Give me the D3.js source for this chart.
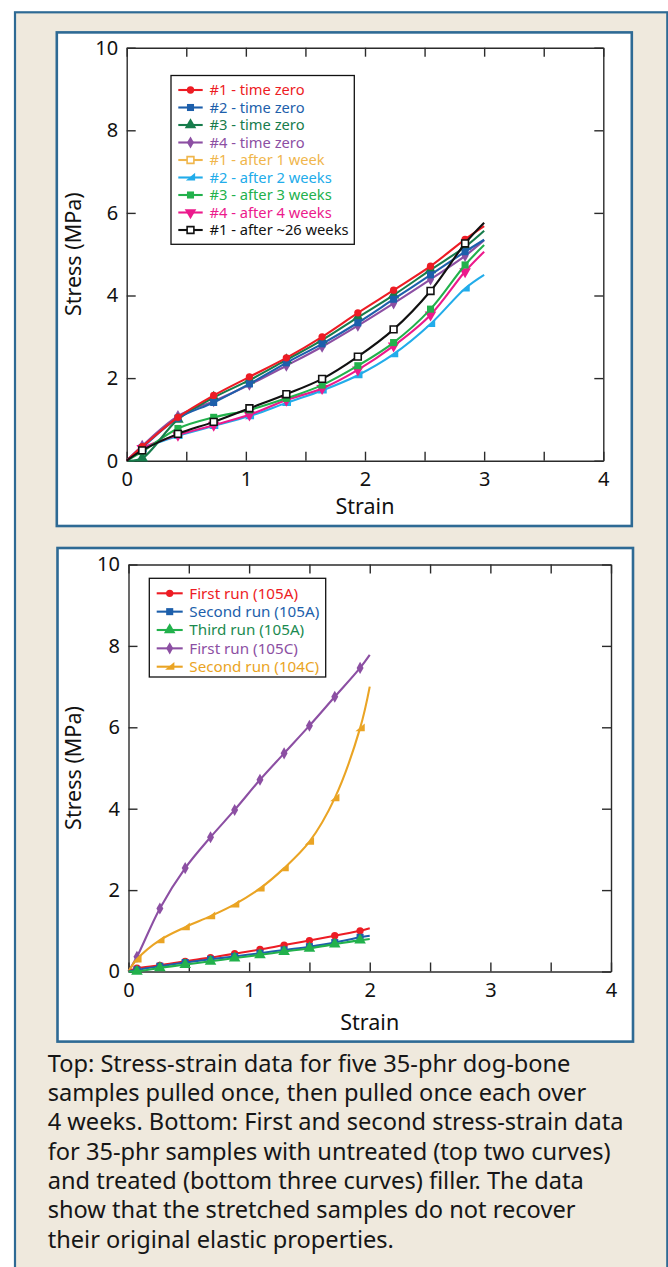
<!DOCTYPE html>
<html>
<head>
<meta charset="utf-8">
<script src="https://cdn.jsdelivr.net/npm/d3@7"></script>
<style>
  html, body { margin: 0; padding: 0; background: #ffffff; }
  svg { display: block; }
  text { font-family: "Noto Sans", "Open Sans", sans-serif; }
</style>
</head>
<body>
<div id="chart"></div>
<script>
// ---- Top panel: five 35-phr dog-bone samples, pulled at time zero and again later ----
const topStrain = [0, 0.13, 0.43, 0.73, 1.03, 1.34, 1.64, 1.94, 2.24, 2.55, 2.84, 3.0];
const s1TimeZero   = [0, 0.34, 1.05, 1.58, 2.03, 2.49, 3.00, 3.58, 4.13, 4.71, 5.36, 5.68];
const s2TimeZero   = [0, 0.32, 1.03, 1.41, 1.86, 2.37, 2.83, 3.34, 3.91, 4.50, 5.06, 5.35];
const s3TimeZero   = [0, 0.06, 1.00, 1.53, 1.95, 2.44, 2.92, 3.47, 4.01, 4.62, 5.18, 5.57];
const s4TimeZero   = [0, 0.36, 1.08, 1.44, 1.84, 2.30, 2.76, 3.27, 3.81, 4.39, 4.96, 5.34];
const s1Week1      = [];
const s2Weeks2     = [0, 0.28, 0.60, 0.84, 1.08, 1.40, 1.70, 2.07, 2.58, 3.31, 4.17, 4.50];
const s3Weeks3     = [0, 0.22, 0.78, 1.05, 1.23, 1.51, 1.83, 2.30, 2.86, 3.67, 4.74, 5.22];
const s4Weeks4     = [0, 0.30, 0.62, 0.86, 1.11, 1.47, 1.75, 2.20, 2.78, 3.53, 4.58, 5.06];
const s1Weeks26    = [0, 0.25, 0.65, 0.94, 1.27, 1.61, 1.98, 2.52, 3.18, 4.11, 5.26, 5.76];

// ---- Bottom panel: repeated runs, treated (105A) and untreated (105C/104C) filler ----
const bottomStrain = [0, 0.07, 0.26, 0.47, 0.68, 0.88, 1.09, 1.29, 1.50, 1.71, 1.92, 2.0];
const run1_105A = [0, 0.08, 0.15, 0.25, 0.34, 0.44, 0.54, 0.65, 0.76, 0.88, 1.00, 1.06];
const run2_105A = [0, 0.04, 0.13, 0.22, 0.30, 0.37, 0.45, 0.53, 0.61, 0.71, 0.84, 0.88];
const run3_105A = [0, 0.00, 0.09, 0.17, 0.25, 0.33, 0.41, 0.49, 0.57, 0.67, 0.77, 0.80];
const run1_105C = [0, 0.36, 1.55, 2.54, 3.30, 3.97, 4.71, 5.36, 6.04, 6.75, 7.46, 7.78];
const run2_104C = [0, 0.30, 0.77, 1.09, 1.36, 1.65, 2.04, 2.54, 3.19, 4.26, 5.98, 7.00];

// ---- Axis ticks ----
const xMajorTicks = [0, 1, 2, 3, 4];
const xMinorTicks = [0, 0.5, 1, 1.5, 2, 2.5, 3, 3.5, 4];
const yTicks = [0, 2, 4, 6, 8, 10];

const captionLines = [
  "Top: Stress-strain data for five 35-phr dog-bone",
  "samples pulled once, then pulled once each over",
  "4 weeks. Bottom: First and second stress-strain data",
  "for 35-phr samples with untreated (top two curves)",
  "and treated (bottom three curves) filler. The data",
  "show that the stretched samples do not recover",
  "their original elastic properties."
];

// Series tables (drawn in list order; legend order given separately)
const topSeries = [
  { label: "#1 - time zero",        color: "#ed1c24", text: "#ed1c24", shape: "circle",   values: s1TimeZero },
  { label: "#2 - time zero",        color: "#1d5fab", text: "#1d5fab", shape: "square",   values: s2TimeZero },
  { label: "#3 - time zero",        color: "#177c4c", text: "#177c4c", shape: "triangle", values: s3TimeZero },
  { label: "#4 - time zero",        color: "#8c4fa3", text: "#8c4fa3", shape: "diamond",  values: s4TimeZero },
  { label: "#1 - after 1 week",     color: "#f0b64c", text: "#f0b64c", shape: "openSquare", values: s1Week1 },
  { label: "#2 - after 2 weeks",    color: "#22acea", text: "#22acea", shape: "halfTri",  values: s2Weeks2 },
  { label: "#3 - after 3 weeks",    color: "#22b14c", text: "#22b14c", shape: "square",   values: s3Weeks3 },
  { label: "#4 - after 4 weeks",    color: "#ec1a8c", text: "#ec1a8c", shape: "downTri",  values: s4Weeks4 },
  { label: "#1 - after ~26 weeks",  color: "#111111", text: "#111111", shape: "openSquare", values: s1Weeks26 }
];
const topDrawOrder = [4, 5, 7, 6, 3, 2, 1, 0, 8];

const bottomSeries = [
  { label: "First run (105A)",  color: "#ed1c24", text: "#ed1c24", shape: "circle",   values: run1_105A },
  { label: "Second run (105A)", color: "#1d5fab", text: "#1d5fab", shape: "square",   values: run2_105A },
  { label: "Third run (105A)",  color: "#22b14c", text: "#1b8a4f", shape: "triangle", values: run3_105A },
  { label: "First run (105C)",  color: "#8c4fa3", text: "#8c4fa3", shape: "diamond",  values: run1_105C },
  { label: "Second run (104C)", color: "#eaa424", text: "#eaa424", shape: "halfTri",  values: run2_104C }
];
const bottomDrawOrder = [3, 4, 0, 1, 2];

const W = 668, H = 1267;
const svg = d3.select("#chart").append("svg").attr("width", W).attr("height", H);

const BEIGE = "#efe9dd", FRAME = "#2e6a94", AXIS = "#2b2b2b";

// Outer framed box and the two white panels
svg.append("rect").attr("x", 15).attr("y", 12.3).attr("width", 652.3).attr("height", 1280)
  .attr("fill", BEIGE).attr("stroke", FRAME).attr("stroke-width", 2.2);
svg.append("rect").attr("x", 56.8).attr("y", 32.4).attr("width", 575).attr("height", 493.6)
  .attr("fill", "#fff").attr("stroke", FRAME).attr("stroke-width", 2.6);
svg.append("rect").attr("x", 57.5).attr("y", 548).attr("width", 575.5).attr("height", 493.6)
  .attr("fill", "#fff").attr("stroke", FRAME).attr("stroke-width", 2.6);

// Marker shapes
const halfTriangle = {
  draw(ctx, size) {
    const s = Math.sqrt(size);
    ctx.moveTo(-s * 0.6, s * 0.4);
    ctx.lineTo(s * 0.6, -s * 0.6);
    ctx.lineTo(s * 0.6, s * 0.4);
    ctx.closePath();
  }
};
function markerPath(shape) {
  switch (shape) {
    case "circle":     return d3.symbol(d3.symbolCircle, 42)();
    case "square":     return d3.symbol(d3.symbolSquare, 50)();
    case "openSquare": return d3.symbol(d3.symbolSquare, 46)();
    case "triangle":   return d3.symbol(d3.symbolTriangle, 58)();
    case "downTri":    return d3.symbol(d3.symbolTriangle, 58)();
    case "diamond":    return d3.symbol(d3.symbolDiamond, 42)();
    case "halfTri":    return d3.symbol(halfTriangle, 60)();
  }
}
function drawMarker(g, shape, color, x, y) {
  const p = g.append("path").attr("d", markerPath(shape))
    .attr("transform", `translate(${x},${y})` + (shape === "downTri" ? " rotate(180)" : ""));
  if (shape === "openSquare") {
    p.attr("fill", "#fff").attr("stroke", color).attr("stroke-width", 1.6);
  } else {
    p.attr("fill", color);
  }
}

function drawPlot(opt) {
  const x = d3.scaleLinear().domain([0, 4]).range([opt.left, opt.right]);
  const y = d3.scaleLinear().domain([0, 10]).range([opt.bottom, opt.top]);
  const g = svg.append("g");

  const styleAxis = (sel) => {
    sel.selectAll("path.domain").attr("stroke", AXIS).attr("stroke-width", 1.4);
    sel.selectAll(".tick line").attr("stroke", AXIS).attr("stroke-width", 1.4);
    sel.selectAll("text").attr("fill", "#111").attr("font-size", 20)
      .attr("font-family", "'Noto Sans', sans-serif");
  };

  // Bottom axis: labelled major ticks, inward ticks every 0.5
  g.append("g").attr("transform", `translate(0,${opt.bottom})`)
    .call(d3.axisBottom(x).tickValues(xMinorTicks).tickSizeInner(-9).tickSizeOuter(0)
      .tickPadding(11).tickFormat(d => xMajorTicks.includes(d) ? d3.format("d")(d) : ""))
    .call(styleAxis);
  g.append("g").attr("transform", `translate(0,${opt.top})`)
    .call(d3.axisTop(x).tickValues(xMinorTicks).tickSizeInner(-9).tickSizeOuter(0).tickFormat(""))
    .call(styleAxis);
  g.append("g").attr("transform", `translate(${opt.left},0)`)
    .call(d3.axisLeft(y).tickValues(yTicks).tickSizeInner(-9).tickSizeOuter(0)
      .tickPadding(8.5).tickFormat(d3.format("d")))
    .call(styleAxis);
  g.append("g").attr("transform", `translate(${opt.right},0)`)
    .call(d3.axisRight(y).tickValues(yTicks).tickSizeInner(-9).tickSizeOuter(0).tickFormat(""))
    .call(styleAxis);

  // Axis titles
  g.append("text").attr("x", (opt.left + opt.right) / 2).attr("y", opt.xTitleY)
    .attr("text-anchor", "middle").attr("font-size", 21.5).attr("fill", "#111").text("Strain");
  g.append("text")
    .attr("transform", `translate(${opt.yTitleX},${(opt.top + opt.bottom) / 2}) rotate(-90)`)
    .attr("text-anchor", "middle").attr("font-size", 21.5).attr("fill", "#111").text("Stress (MPa)");

  // Curves with markers
  const line = d3.line().x(d => x(d[0])).y(d => y(d[1])).curve(d3.curveCatmullRom.alpha(0.5));
  opt.order.forEach(i => {
    const s = opt.series[i];
    if (!s.values.length) return;
    const pts = s.values.map((v, k) => [opt.strain[k], v]);
    const sg = g.append("g");
    sg.append("path").attr("d", line(pts)).attr("fill", "none")
      .attr("stroke", s.color).attr("stroke-width", 2.1);
    pts.slice(1, -1).forEach(p => drawMarker(sg, s.shape, s.color, x(p[0]), y(p[1])));
  });

  // Legend
  const L = opt.legend;
  const lg = g.append("g");
  lg.append("rect").attr("x", L.x).attr("y", L.y).attr("width", L.w).attr("height", L.h)
    .attr("fill", "#fff").attr("stroke", "#111").attr("stroke-width", 1.3);
  opt.series.forEach((s, i) => {
    const cy = L.firstRow + i * L.rowStep;
    lg.append("line").attr("x1", L.symX0).attr("x2", L.symX1).attr("y1", cy).attr("y2", cy)
      .attr("stroke", s.color).attr("stroke-width", 2.1);
    drawMarker(lg, s.shape, s.color, (L.symX0 + L.symX1) / 2, cy);
    lg.append("text").attr("x", L.textX).attr("y", cy).attr("dy", "0.35em")
      .attr("font-size", L.fontSize).attr("fill", s.text).text(s.label);
  });
}

drawPlot({
  left: 126.7, right: 603.3, top: 47.7, bottom: 460.7,
  xTitleY: 514, yTitleX: 81,
  strain: topStrain, series: topSeries, order: topDrawOrder,
  legend: { x: 171, y: 75.5, w: 183.3, h: 168.8, firstRow: 90, rowStep: 17.5,
            symX0: 178.3, symX1: 202.7, textX: 209.5, fontSize: 14.7 }
});

drawPlot({
  left: 128.5, right: 611, top: 564.5, bottom: 971.5,
  xTitleY: 1029.5, yTitleX: 81,
  strain: bottomStrain, series: bottomSeries, order: bottomDrawOrder,
  legend: { x: 149.3, y: 578.3, w: 176.4, h: 98.7, firstRow: 593.3, rowStep: 18.35,
            symX0: 156.7, symX1: 182.7, textX: 189.3, fontSize: 15.2 }
});

// Caption under the panels
const cap = svg.append("g").attr("fill", "#161616");
const capTexts = captionLines.map((t, i) =>
  cap.append("text").attr("x", 47.7).attr("y", 1071.7 + i * 29.3).attr("font-size", 21).text(t));
// Fit the widest line to the text column width
const widest = d3.max(capTexts, t => t.node().getComputedTextLength());
const targetWidth = 576;
const fitted = 21 * targetWidth / widest;
capTexts.forEach(t => t.attr("font-size", fitted));
</script>
</body>
</html>
